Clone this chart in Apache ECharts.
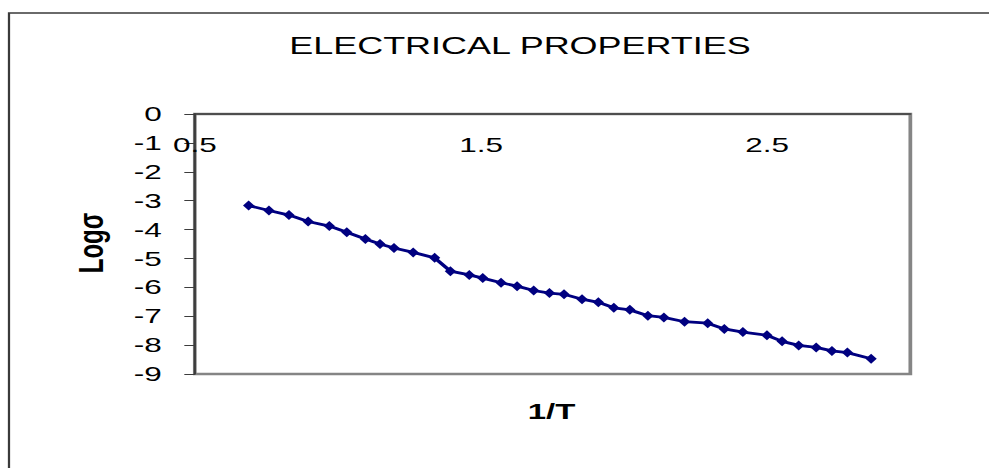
<!DOCTYPE html>
<html>
<head>
<meta charset="utf-8">
<script src="https://cdn.jsdelivr.net/npm/echarts@6/dist/echarts.min.js"></script>
<style>
  html, body { margin: 0; padding: 0; background: #fff; overflow: hidden; }
  #wrap { width: 989px; height: 468px; position: relative; overflow: hidden; }
  /* the chart is laid out narrow and widened horizontally */
  #chart { width: 660px; height: 468px; transform: scaleX(1.4985); transform-origin: 0 0; }
</style>
</head>
<body>
<div id="wrap"><div id="chart"></div></div>
<script>
// 1/T values (x) and log conductivity (y)
const invT = [0.688, 0.759, 0.829, 0.896, 0.970, 1.031, 1.096, 1.147, 1.196, 1.263,
              1.338, 1.393, 1.459, 1.506, 1.570, 1.626, 1.684, 1.739, 1.790, 1.853,
              1.910, 1.964, 2.020, 2.083, 2.139, 2.211, 2.292, 2.350, 2.415, 2.499,
              2.552, 2.610, 2.671, 2.726, 2.780, 2.863];
const logSigma = [-3.17, -3.34, -3.50, -3.72, -3.88, -4.09, -4.33, -4.50, -4.64, -4.79,
                  -4.98, -5.44, -5.57, -5.68, -5.84, -5.96, -6.11, -6.20, -6.24, -6.41,
                  -6.52, -6.71, -6.78, -6.98, -7.04, -7.19, -7.24, -7.44, -7.55, -7.66,
                  -7.87, -8.01, -8.08, -8.20, -8.26, -8.47];
const xRange = [0.5, 3.0];
const yRange = [-9, 0];

const titleText = 'ELECTRICAL PROPERTIES';
const xName = '1/T';
const yName = 'Logσ';

const FONT = '"Liberation Sans", Arial, sans-serif';
const chart = echarts.init(document.getElementById('chart'), null, { renderer: 'svg' });

chart.setOption({
  animation: false,
  backgroundColor: '#fff',
  grid: {
    left: 130, top: 114, width: 477.5, height: 260,
    show: true, borderColor: '#858585', borderWidth: 2.5, backgroundColor: '#fff'
  },
  xAxis: {
    type: 'value', position: 'top',
    min: xRange[0], max: xRange[1], interval: 1,
    axisLine: { onZero: false, lineStyle: { color: '#3c3c3c', width: 1.5 } },
    axisTick: { show: false },
    splitLine: { show: false },
    axisLabel: {
      inside: true, margin: 20, showMaxLabel: false, showMinLabel: true,
      fontFamily: FONT, fontSize: 21, color: '#000',
      formatter: v => v.toFixed(1)
    }
  },
  yAxis: {
    type: 'value', min: yRange[0], max: yRange[1], interval: 1,
    axisLine: { show: true, onZero: false, lineStyle: { color: '#3c3c3c', width: 1.5 } },
    axisTick: { show: true, length: 7, lineStyle: { color: '#3c3c3c', width: 1 } },
    splitLine: { show: false },
    axisLabel: { margin: 22, fontFamily: FONT, fontSize: 21, color: '#000' }
  },
  series: [{
    type: 'line',
    data: invT.map((x, i) => [x, logSigma[i]]),
    symbol: 'diamond', symbolSize: [7.5, 10],
    lineStyle: { color: '#000080', width: 2.8 },
    itemStyle: { color: '#000080' }
  }],
  graphic: [
    {
      // frame around the figure (left and top edges)
      type: 'polyline', silent: true, z: -1,
      shape: { points: [[6, 480], [6, 13], [700, 13]] },
      style: { fill: 'none', stroke: '#3a3a3a', lineWidth: 1.5 }
    },
    {
      type: 'text', x: 347, y: 45,
      style: { text: titleText, font: '24px ' + FONT, fill: '#000',
               textAlign: 'center', textVerticalAlign: 'middle', align: 'center', verticalAlign: 'middle' }
    },
    {
      type: 'text', x: 368, y: 412,
      style: { text: xName, font: 'bold 22px ' + FONT, fill: '#000',
               textAlign: 'center', textVerticalAlign: 'middle', align: 'center', verticalAlign: 'middle' }
    },
    {
      type: 'text', x: 60, y: 243, rotation: Math.PI / 2,
      style: { text: yName, font: 'bold 24px ' + FONT, fill: '#000',
               textAlign: 'center', textVerticalAlign: 'middle', align: 'center', verticalAlign: 'middle' }
    }
  ]
});
</script>
</body>
</html>
